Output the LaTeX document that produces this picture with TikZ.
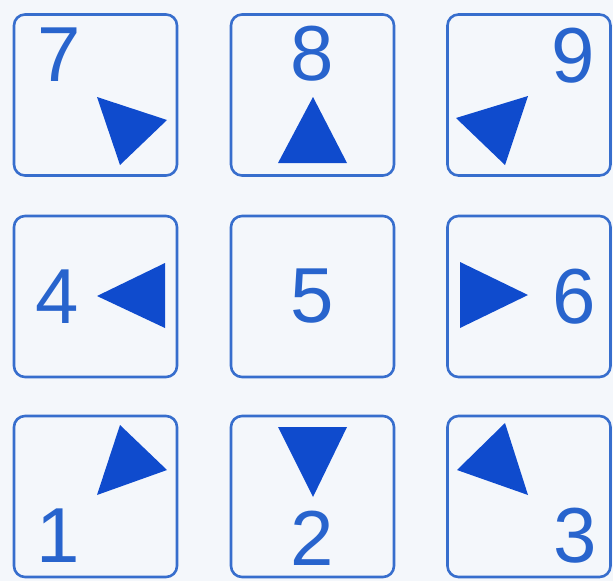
\documentclass[tikz,border=0pt]{standalone}
\usepackage{fontspec}
\setmainfont{Liberation Sans}
\definecolor{keyline}{RGB}{55,110,205}
\definecolor{keytext}{RGB}{40,100,205}
\definecolor{arrowfill}{RGB}{15,75,205}
\definecolor{paper}{RGB}{244,247,251}
\tikzset{
  keybox/.style={draw=keyline, line width=2.6pt, rounded corners=11pt, minimum width=163pt, minimum height=161pt, inner sep=0pt},
  digit/.style={text=keytext, inner sep=0pt, font=\fontsize{78}{78}\selectfont},
  tri/.style={fill=arrowfill, draw=none}
}
\begin{document}
\begin{tikzpicture}[x=1pt,y=-1pt]
\fill[paper] (0,0) rectangle (613,581);
\useasboundingbox (0,0) rectangle (613,581);
% keys
\node[keybox] (k7) at (95.5,95) {};
\node[keybox] (k8) at (312.5,95) {};
\node[keybox] (k9) at (529,95) {};
\node[keybox] (k4) at (95.5,296.5) {};
\node[keybox] (k5) at (312.5,296.5) {};
\node[keybox] (k6) at (529,296.5) {};
\node[keybox] (k1) at (95.5,496.5) {};
\node[keybox] (k2) at (312.5,496.5) {};
\node[keybox] (k3) at (529,496.5) {};
% digits
\node[digit] (d7) at (59,55) {7};
\node[digit] (d8) at (312.5,54) {8};
\node[digit] (d9) at (573,55.5) {9};
\node[digit] (d4) at (57.5,296.5) {4};
\node[digit] (d5) at (312.5,296) {5};
\node[digit] (d6) at (574,296.5) {6};
\node[digit] (d1) at (58,536) {1};
\node[digit] (d2) at (312.5,538.5) {2};
\node[digit] (d3) at (575,536) {3};
% arrows
\fill[tri] (97,97) -- (167,120) -- (120,165) -- cycle;
\fill[tri] (313,97) -- (278,163) -- (347,163) -- cycle;
\fill[tri] (528,96) -- (456,118) -- (505,165) -- cycle;
\fill[tri] (97,296) -- (165,263) -- (165,328) -- cycle;
\fill[tri] (460,262) -- (460,328) -- (528,295) -- cycle;
\fill[tri] (120,425) -- (167,470) -- (97,495) -- cycle;
\fill[tri] (278,427) -- (347,427) -- (313,497) -- cycle;
\fill[tri] (505,423) -- (457,470) -- (528,495) -- cycle;
\end{tikzpicture}
\end{document}
